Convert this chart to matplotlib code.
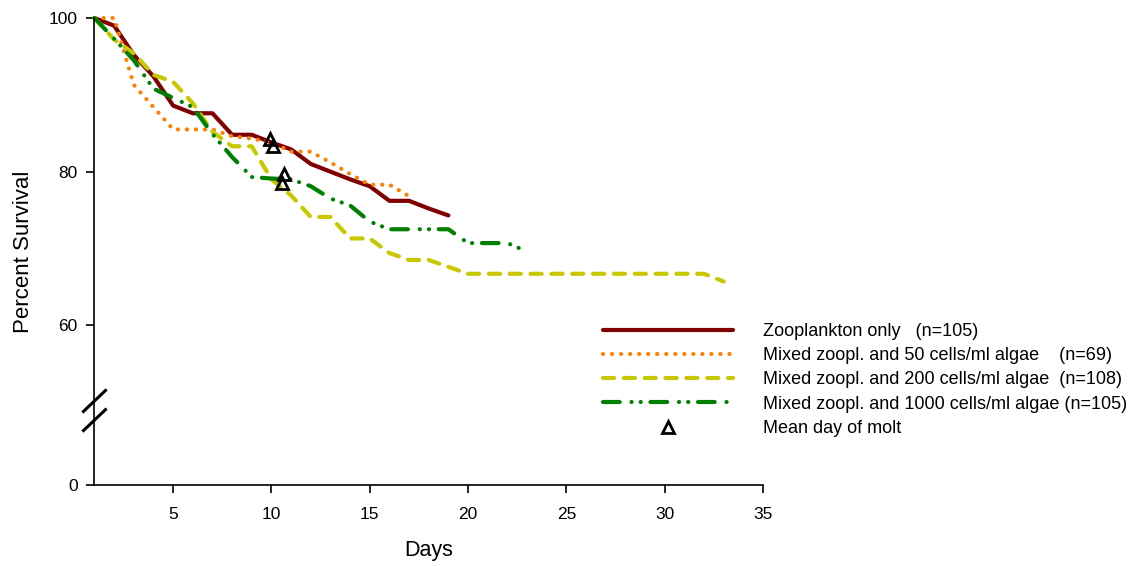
import numpy as np
import matplotlib
matplotlib.use("Agg")
import matplotlib.pyplot as plt

plt.rcParams['font.family'] = ['Liberation Sans', 'DejaVu Sans']
plt.rcParams['lines.scale_dashes'] = False

# survival curves (percent surviving per day)
days_zoo = list(range(1, 20))
surv_zoo = [100, 99.0, 95.2, 92.4, 88.6, 87.6, 87.6, 84.8, 84.8, 83.8,
            82.9, 81.0, 80.0, 79.0, 78.1, 76.2, 76.2, 75.2, 74.3]

days_50 = list(range(1, 18))
surv_50 = [100, 100, 91.3, 88.4, 85.5, 85.5, 85.5, 84.6, 84.3, 83.8,
           82.6, 82.6, 81.2, 79.7, 78.3, 78.3, 76.8]

days_200 = list(range(1, 34))
surv_200 = [100, 97.2, 95.4, 92.6, 91.7, 88.9, 85.2, 83.3, 83.3, 79.0,
            76.9, 74.1, 74.1, 71.3, 71.3, 69.4, 68.5, 68.5, 67.6, 66.7,
            66.7, 66.7, 66.7, 66.7, 66.7, 66.7, 66.7, 66.7, 66.7, 66.7,
            66.7, 66.7, 65.7]

days_1000 = list(range(1, 24))
surv_1000 = [100, 97.3, 94.5, 90.8, 89.6, 88.4, 84.9, 81.9, 79.3, 79.1,
             79.0, 78.1, 76.5, 75.6, 73.5, 72.5, 72.5, 72.5, 72.5, 70.7,
             70.7, 70.7, 69.6]

# mean day of molt
molt_day = [9.93, 10.1, 10.65, 10.56]
molt_surv = [84.3, 83.3, 79.7, 78.5]

labels = ['Zooplankton only   (n=105)',
          'Mixed zoopl. and 50 cells/ml algae    (n=69)',
          'Mixed zoopl. and 200 cells/ml algae  (n=108)',
          'Mixed zoopl. and 1000 cells/ml algae (n=105)',
          'Mean day of molt']


# broken y axis: 0..45 squeezed into a short stub below the 45..100 range
def fwd(v):
    v = np.asarray(v, dtype=float)
    return np.where(v < 45, 39.2 + v * (5.8 / 45), v)


def inv(p):
    p = np.asarray(p, dtype=float)
    return np.where(p < 45, (p - 39.2) * 45 / 5.8, p)


fig = plt.figure(figsize=(11.41, 5.67), dpi=100)
ax = fig.add_axes([0.0828, 0.1446, 0.5859, 0.8236])
ax.set_yscale('function', functions=(fwd, inv))

lw = 3
h1, = ax.plot(days_zoo, surv_zoo, color='#800000', lw=lw, solid_capstyle='round',
              clip_on=False)
h2, = ax.plot(days_50, surv_50, color='#ff7f00', lw=lw, linestyle=(0, (0.1, 6.4)),
              dash_capstyle='round', clip_on=False)
h3, = ax.plot(days_200, surv_200, color='#c8c800', lw=lw, linestyle=(0, (8, 7)),
              dash_capstyle='round', clip_on=False)
h4, = ax.plot(days_1000, surv_1000, color='#008000', lw=lw,
              linestyle=(0, (12, 8.5, 0.1, 6.5, 0.1, 7)),
              dash_capstyle='round', clip_on=False)
h5, = ax.plot(molt_day, molt_surv, linestyle='none', marker='^', markersize=9,
              markerfacecolor='none', markeredgecolor='black', markeredgewidth=2,
              clip_on=False)

ax.set_xlim(1, 35)
ax.set_ylim(0, 100)
ax.set_xticks([5, 10, 15, 20, 25, 30, 35])
ax.set_yticks([0, 60, 80, 100])
ax.set_yticklabels(['0', '60', '80', '100'])
ax.yaxis.set_minor_locator(matplotlib.ticker.NullLocator())

for s in ['top', 'right']:
    ax.spines[s].set_visible(False)
for s in ['left', 'bottom']:
    ax.spines[s].set_linewidth(1.2)
ax.tick_params(axis='both', direction='out', length=6, width=1.2, labelsize=12.5)
ax.tick_params(axis='y', pad=6)
ax.tick_params(axis='x', pad=10)

ax.set_xlabel('Days', fontsize=15.5, labelpad=13)
ax.set_ylabel('Percent Survival', fontsize=16, labelpad=11)

# break marks on the y axis
dx, dy = 0.0165, 0.0225
for yc in [0.18, 0.139]:
    ax.plot([-dx, dx], [yc - dy, yc + dy], color='black', lw=2.2,
            transform=ax.transAxes, clip_on=False)

fig.legend([h1, h2, h3, h4, h5], labels, loc='upper left',
           bbox_to_anchor=(603 / 1141, 1 - 323 / 567), frameon=False,
           fontsize=13, handlelength=7.2, handletextpad=1.65,
           labelspacing=0.4, borderpad=0, borderaxespad=0, numpoints=1)

fig.savefig('out.png', dpi=100)
